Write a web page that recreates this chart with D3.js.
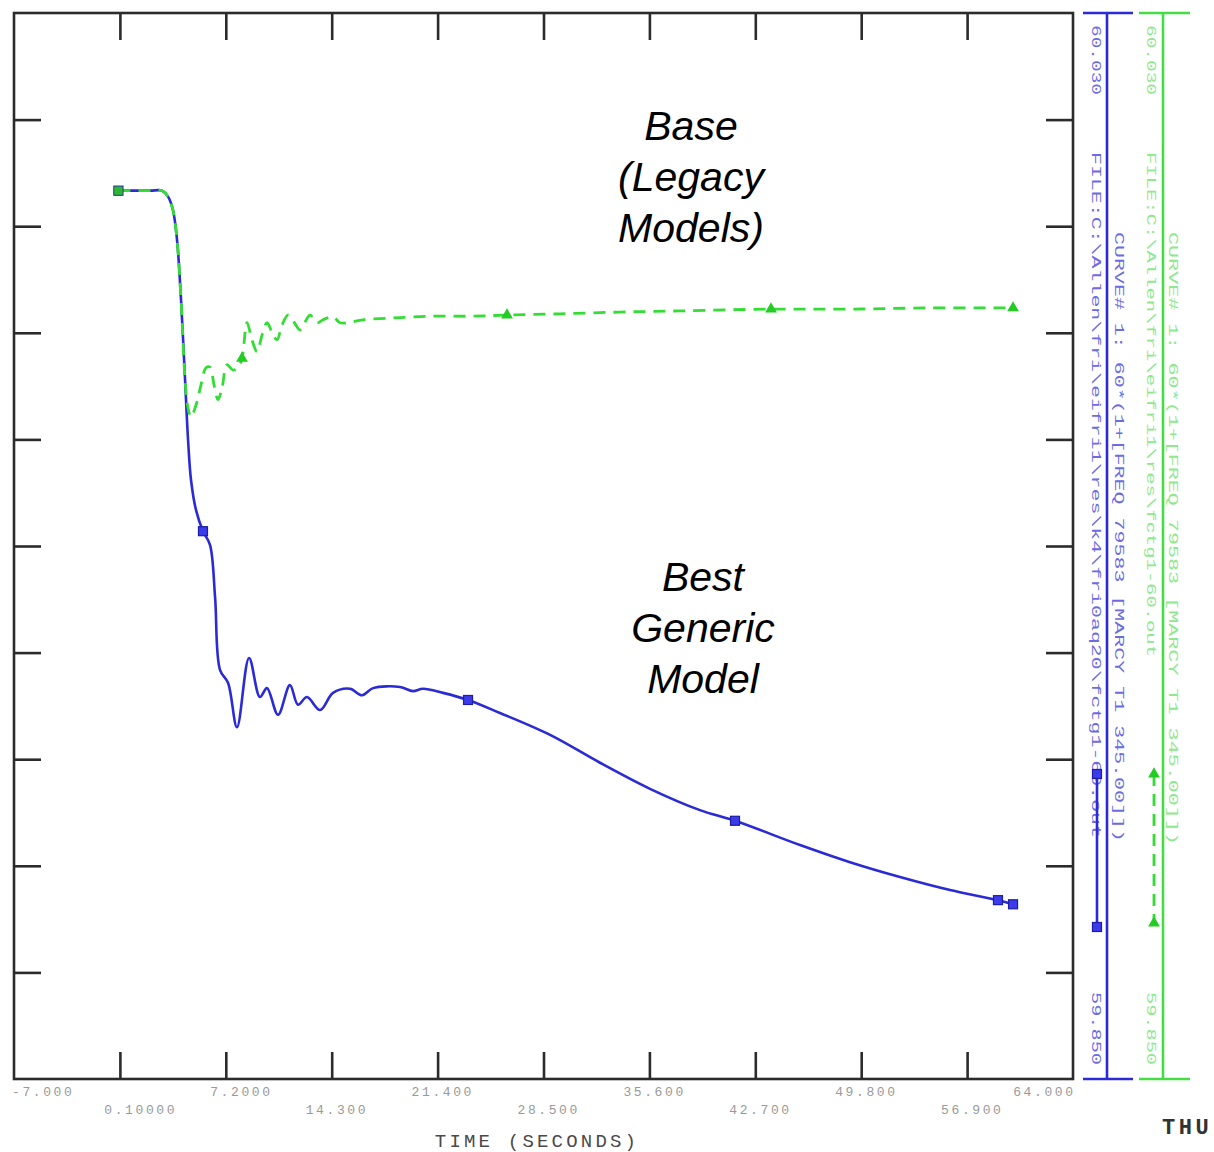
<!DOCTYPE html>
<html><head><meta charset="utf-8">
<script src="https://cdn.jsdelivr.net/npm/d3@7"></script>
<style>html,body{margin:0;padding:0;background:#fff;overflow:hidden}</style>
</head><body>
<script>
// ---------------- data ----------------
const xDomain = [-7.0, 64.0];
const yDomain = [59.85, 60.03];
const xTickValues = [0.1, 7.2, 14.3, 21.4, 28.5, 35.6, 42.7, 49.8, 56.9];
const xLabelsTop = ["-7.000", "7.2000", "21.400", "35.600", "49.800", "64.000"];
const xLabelsTopValues = [-7.0, 7.2, 21.4, 35.6, 49.8, 64.0];
const xLabelsBottom = ["0.10000", "14.300", "28.500", "42.700", "56.900"];
const xLabelsBottomValues = [0.1, 14.3, 28.5, 42.7, 56.9];
const yTickValues = [59.868, 59.886, 59.904, 59.922, 59.94, 59.958, 59.976, 59.994, 60.012];
const xAxisTitle = "TIME (SECONDS)";

// Best Generic Model (blue, solid)
const blueTime = [0.0, 2.12, 2.92, 3.33, 3.66, 3.93, 4.20, 4.47, 4.67, 4.87, 5.20, 5.67, 6.14, 6.48, 6.81, 7.35, 7.95, 8.76, 9.49, 9.96, 10.70, 11.50, 12.04, 12.64, 13.52, 14.39, 15.53, 16.33, 17.07, 18.88, 19.75, 20.42, 21.76, 23.44, 25.58, 28.94, 32.29, 35.64, 38.99, 41.34, 45.70, 49.05, 52.40, 55.76, 58.97, 59.98];
const blueFreq = [60.000, 60.000, 60.000, 59.999, 59.9967, 59.9917, 59.9815, 59.968, 59.9579, 59.9511, 59.9461, 59.9425, 59.9402, 59.9314, 59.9191, 59.9169, 59.9094, 59.9211, 59.9145, 59.916, 59.9115, 59.9165, 59.9132, 59.9145, 59.9123, 59.9152, 59.9159, 59.9148, 59.916, 59.9162, 59.9155, 59.9159, 59.9152, 59.914, 59.9118, 59.9081, 59.9034, 59.899, 59.8954, 59.8936, 59.8895, 59.8866, 59.8841, 59.8819, 59.8802, 59.8795];
const blueMarkerTime = [0.0, 5.67, 23.44, 41.34, 58.97, 59.98];

// Base (Legacy Models) (green, dashed)
const greenTime = [0.0, 2.12, 2.92, 3.33, 3.66, 3.93, 4.20, 4.47, 4.666, 4.867, 5.203, 5.538, 5.873, 6.141, 6.410, 6.678, 6.946, 7.281, 7.683, 8.018, 8.287, 8.622, 8.957, 9.292, 9.628, 9.963, 10.298, 10.633, 10.969, 11.371, 11.773, 12.176, 12.511, 12.846, 13.315, 13.718, 14.388, 14.857, 15.528, 16.40, 18.411, 20.891, 23.573, 26.054, 29.607, 33.63, 37.653, 43.754, 49.051, 54.415, 59.98];
const greenFreq = [60.000, 60.000, 60.000, 59.999, 59.9967, 59.9917, 59.9815, 59.968, 59.9633, 59.9618, 59.9638, 59.9672, 59.9701, 59.9702, 59.9672, 59.9647, 59.9667, 59.9706, 59.9697, 59.9701, 59.9717, 59.9777, 59.9748, 59.9728, 59.9756, 59.9777, 59.9761, 59.9748, 59.9773, 59.979, 59.9778, 59.9765, 59.9778, 59.979, 59.9777, 59.9782, 59.9787, 59.9777, 59.9778, 59.9782, 59.9785, 59.9788, 59.9788, 59.979, 59.9792, 59.9795, 59.9797, 59.98, 59.98, 59.9802, 59.9802];
const greenMarkerTime = [0.0, 8.287, 26.054, 43.754, 59.98];

const annotBase = ["Base", "(Legacy", "Models)"];
const annotBest = ["Best", "Generic", "Model"];

const rightTexts = {
  blueTop: "60.030", blueBottom: "59.850",
  blueFile: "FILE:C:\\Allen\\fri\\eifri1\\res\\k4\\fri0aq20\\fctg1-60.out",
  blueCurve: "CURVE# 1: 60*(1+[FREQ  79583  [MARCY T1    345.00]])",
  greenTop: "60.030", greenBottom: "59.850",
  greenFile: "FILE:C:\\Allen\\fri\\eifri1\\res\\fctg1-60.out",
  greenCurve: "CURVE# 1: 60*(1+[FREQ  79583  [MARCY T1    345.00]])"
};

// ---------------- drawing ----------------
const W = 1214, H = 1152;
const svg = d3.select("body").append("svg").attr("width", W).attr("height", H);
const L = 14, R = 1073, T = 13, B = 1079;
const x = d3.scaleLinear().domain(xDomain).range([L, R]);
const y = d3.scaleLinear().domain(yDomain).range([B, T]);

const frameColor = "#2b2b2b";
const tickLen = 27;

// frame
svg.append("rect").attr("x", L).attr("y", T).attr("width", R - L).attr("height", B - T)
  .attr("fill", "none").attr("stroke", frameColor).attr("stroke-width", 2.6);

// ticks on all 4 sides via d3 axes
const axB = d3.axisBottom(x).tickValues(xTickValues).tickSizeInner(-tickLen).tickSizeOuter(0).tickFormat("");
const axT = d3.axisTop(x).tickValues(xTickValues).tickSizeInner(-tickLen).tickSizeOuter(0).tickFormat("");
const axL = d3.axisLeft(y).tickValues(yTickValues).tickSizeInner(-tickLen).tickSizeOuter(0).tickFormat("");
const axR = d3.axisRight(y).tickValues(yTickValues).tickSizeInner(-tickLen).tickSizeOuter(0).tickFormat("");
[[axB, `translate(0,${B})`], [axT, `translate(0,${T})`], [axL, `translate(${L},0)`], [axR, `translate(${R},0)`]].forEach(([a, tr]) => {
  const g = svg.append("g").attr("transform", tr).call(a);
  g.select(".domain").remove();
  g.selectAll(".tick line").attr("stroke", frameColor).attr("stroke-width", 2.6);
});

// x tick labels (decimal point aligned on the tick)
const labelFont = "'Liberation Mono', 'DejaVu Sans Mono', monospace";
const fs = 13, ls = 2.6, pitch = fs * 0.6 + ls;
const lblG = svg.append("g").attr("font-family", labelFont).attr("font-size", fs)
  .attr("fill", "#999").attr("letter-spacing", ls);
const placeLabel = (s, v, py) => {
  let px;
  if (v === xDomain[0]) px = x(v) - 2;
  else if (v === xDomain[1]) px = x(v) - s.length * pitch + ls;
  else px = x(v) - (s.indexOf(".") + 0.5) * pitch;
  lblG.append("text").attr("x", px).attr("y", py).text(s);
};
xLabelsTopValues.forEach((v, i) => placeLabel(xLabelsTop[i], v, 1096));
xLabelsBottomValues.forEach((v, i) => placeLabel(xLabelsBottom[i], v, 1114));

svg.append("text").attr("x", 537).attr("y", 1147).attr("text-anchor", "middle")
  .attr("font-family", labelFont).attr("font-size", 19)
  .attr("letter-spacing", 3.2).attr("fill", "#4a4a4a").text(xAxisTitle);
svg.append("text").attr("x", 1162).attr("y", 1134)
  .attr("font-family", labelFont).attr("font-size", 22).attr("font-weight", "bold")
  .attr("letter-spacing", 3.5).attr("fill", "#333").text("THU");

// curves
const blueData = blueTime.map((t, i) => [t, blueFreq[i]]);
const greenData = greenTime.map((t, i) => [t, greenFreq[i]]);
const line = d3.line().x(d => x(d[0])).y(d => y(d[1])).curve(d3.curveCatmullRom.alpha(0.5));
const blueColor = "#2a2ad6", greenColor = "#33dd33";

svg.append("path").datum(blueData).attr("d", line).attr("fill", "none")
  .attr("stroke", blueColor).attr("stroke-width", 2.6).attr("stroke-linejoin", "round");
svg.append("path").datum(greenData).attr("d", line).attr("fill", "none")
  .attr("stroke", greenColor).attr("stroke-width", 2.8).attr("stroke-dasharray", "12,8");

const interp = (data, t) => {
  for (let i = 1; i < data.length; i++) {
    if (t <= data[i][0]) {
      const a = data[i - 1], b = data[i];
      const f = (t - a[0]) / (b[0] - a[0] || 1);
      return a[1] + f * (b[1] - a[1]);
    }
  }
  return data[data.length - 1][1];
};
const sq = 9;
blueMarkerTime.forEach(t => {
  svg.append("rect").attr("x", x(t) - sq / 2).attr("y", y(interp(blueData, t)) - sq / 2)
    .attr("width", sq).attr("height", sq).attr("fill", "#3b3bea").attr("stroke", "#1c1ca8").attr("stroke-width", 1.2);
});
const tri = d3.symbol().type(d3.symbolTriangle).size(60);
greenMarkerTime.forEach((t, i) => {
  svg.append("path").attr("d", i === 0 ? d3.symbol().type(d3.symbolSquare).size(70)() : tri())
    .attr("transform", `translate(${x(t)},${y(interp(greenData, t))})`).attr("fill", i === 0 ? "#2cb82c" : "#22cc22");
});

// annotations
const annFont = "'Liberation Sans', Arial, sans-serif";
annotBase.forEach((s, i) => {
  svg.append("text").attr("x", 691).attr("y", 140 + i * 51).attr("text-anchor", "middle")
    .attr("font-family", annFont).attr("font-style", "italic").attr("font-size", 41).attr("fill", "#000").text(s);
});
annotBest.forEach((s, i) => {
  svg.append("text").attr("x", 703).attr("y", 591 + i * 51).attr("text-anchor", "middle")
    .attr("font-family", annFont).attr("font-style", "italic").attr("font-size", 41).attr("fill", "#000").text(s);
});

// right-side secondary axes
const rightAxis = (ax, capL, capR, color) => {
  svg.append("line").attr("x1", ax).attr("x2", ax).attr("y1", y(yDomain[1])).attr("y2", y(yDomain[0]))
    .attr("stroke", color).attr("stroke-width", 2.6);
  [yDomain[1], yDomain[0]].forEach(v => {
    svg.append("line").attr("x1", capL).attr("x2", capR).attr("y1", y(v)).attr("y2", y(v))
      .attr("stroke", color).attr("stroke-width", 2.6);
  });
};
rightAxis(1107, 1083, 1133, "#2a2ad6");
rightAxis(1163, 1139, 1190, "#44dd44");

const vtext = (str, cx, y0, y1, color) => {
  svg.append("text").attr("transform", `translate(${cx},${y0}) rotate(90)`)
    .attr("dominant-baseline", "central")
    .attr("font-family", labelFont).attr("font-size", 13).attr("fill", color)
    .attr("textLength", y1 - y0).attr("lengthAdjust", "spacingAndGlyphs").text(str);
};
const bt = "#6b6be6", gt = "#8ee88e";
vtext(rightTexts.blueTop, 1095, 25, 95, bt);
vtext(rightTexts.blueFile, 1095, 152, 838, bt);
vtext(rightTexts.blueCurve, 1118, 232, 842, bt);
vtext(rightTexts.blueBottom, 1095, 992, 1065, bt);
vtext(rightTexts.greenTop, 1150, 25, 95, gt);
vtext(rightTexts.greenFile, 1150, 152, 657, gt);
vtext(rightTexts.greenCurve, 1172, 232, 845, gt);
vtext(rightTexts.greenBottom, 1150, 992, 1065, gt);

// legend samples
svg.append("line").attr("x1", 1097).attr("x2", 1097).attr("y1", 774).attr("y2", 927)
  .attr("stroke", blueColor).attr("stroke-width", 2.6);
[774, 927].forEach(py => svg.append("rect").attr("x", 1097 - 4.5).attr("y", py - 4.5).attr("width", 9).attr("height", 9)
  .attr("fill", "#3b3bea").attr("stroke", "#1c1ca8").attr("stroke-width", 1.2));
svg.append("line").attr("x1", 1154).attr("x2", 1154).attr("y1", 774).attr("y2", 925)
  .attr("stroke", greenColor).attr("stroke-width", 2.8).attr("stroke-dasharray", "12,8");
[774, 923].forEach(py => svg.append("path").attr("d", tri()).attr("transform", `translate(1154,${py})`).attr("fill", "#22cc22"));
</script>
</body></html>
